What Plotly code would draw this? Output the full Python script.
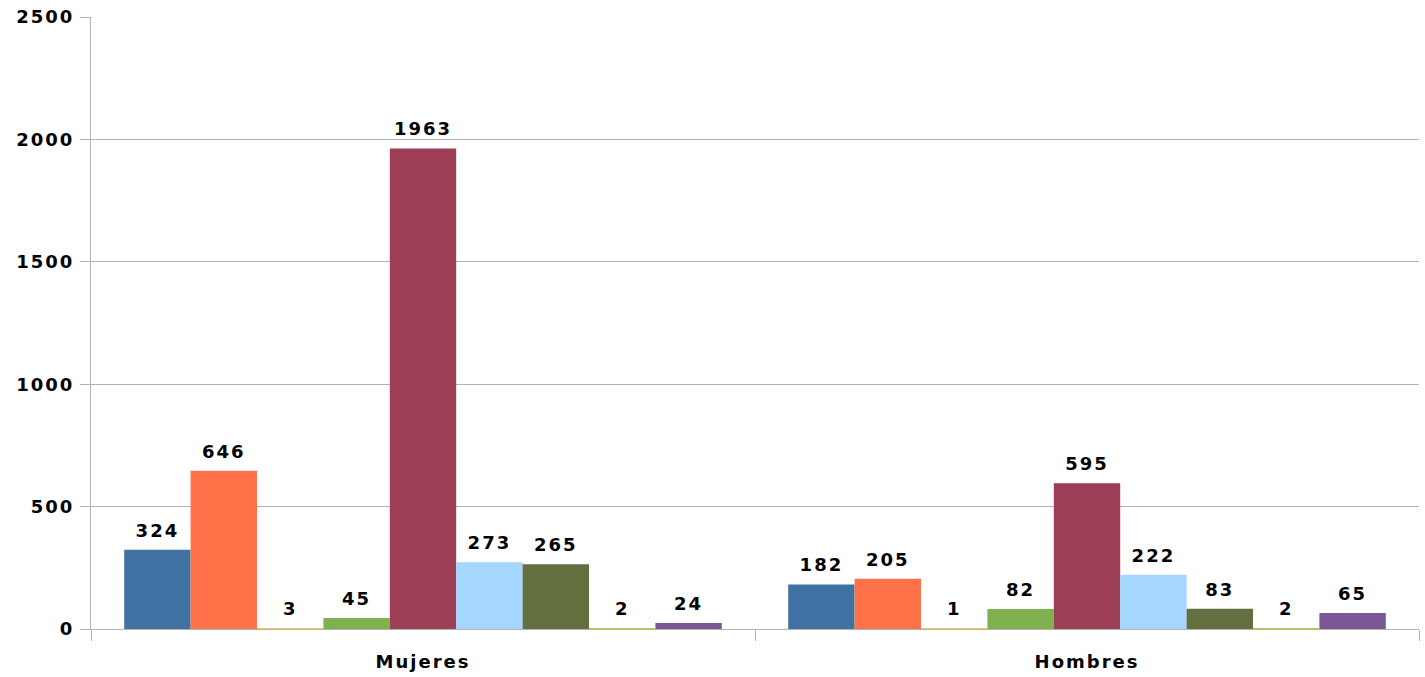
import plotly.graph_objects as go

categories = ["Mujeres", "Hombres"]
series_names = ["Serie 1", "Serie 2", "Serie 3", "Serie 4", "Serie 5", "Serie 6", "Serie 7", "Serie 8", "Serie 9"]
values = [
    [324, 182],
    [646, 205],
    [3, 1],
    [45, 82],
    [1963, 595],
    [273, 222],
    [265, 83],
    [2, 2],
    [24, 65],
]
colors = ["#3F72A2", "#FF7148", "#F5C842", "#7FB24F", "#9D3E56", "#A4D6FF", "#636F3F", "#B5D020", "#7B5895"]
y_ticks = [0, 500, 1000, 1500, 2000, 2500]

font_family = "DejaVu Sans"
font_size = 18

fig = go.Figure()
for name, vals, col in zip(series_names, values, colors):
    fig.add_trace(go.Bar(
        x=categories, y=vals, name=name,
        marker=dict(color=col, line=dict(width=0)),
        text=[str(v) for v in vals], textposition="outside",
        textfont=dict(family=font_family, size=font_size, color="#000000", weight="bold"),
        cliponaxis=False,
    ))

fig.update_layout(
    width=1425, height=677,
    barmode="group", bargap=0.1, bargroupgap=0,
    showlegend=False,
    plot_bgcolor="#FFFFFF", paper_bgcolor="#FFFFFF",
    margin=dict(l=91, r=6, t=17, b=48),
    font=dict(family=font_family, size=font_size, color="#000000"),
)
fig.update_xaxes(
    showline=True, linecolor="#B3B3B3", linewidth=1,
    ticks="outside", tickson="boundaries", ticklen=11, tickcolor="#B3B3B3",
    tickfont=dict(family=font_family, size=font_size, color="#000000", weight="bold"),
    ticklabelstandoff=16,
    showgrid=False,
)
fig.update_yaxes(
    range=[0, 2500], tickvals=y_ticks,
    showgrid=True, gridcolor="#B3B3B3", gridwidth=1,
    showline=True, linecolor="#B3B3B3", linewidth=1,
    ticks="outside", ticklen=10, tickcolor="#B3B3B3",
    tickfont=dict(family=font_family, size=font_size, color="#000000", weight="bold"),
    ticklabelstandoff=2,
    zeroline=False,
)

post = """
document.body.style.margin = '0';
document.body.style.overflow = 'hidden';
var st = document.createElement('style');
st.innerHTML = '.main-svg text { letter-spacing: 2px; }';
document.head.appendChild(st);
document.querySelectorAll('text.bartext').forEach(function(t) {
  var y = parseFloat(t.getAttribute('y'));
  if (!isNaN(y)) { t.setAttribute('y', y - 6); }
});
"""

fig.write_html("out.html", post_script=post, config={"displayModeBar": False})
